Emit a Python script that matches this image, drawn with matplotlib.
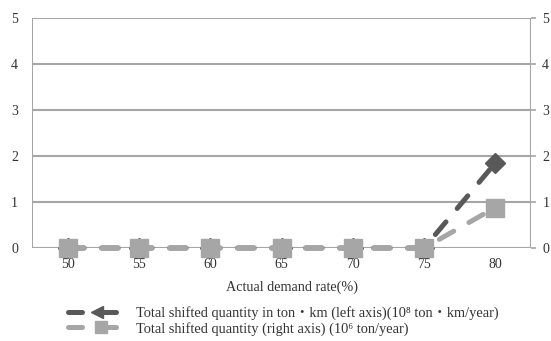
import matplotlib
matplotlib.use("Agg")
import matplotlib.pyplot as plt
from matplotlib.lines import Line2D
from matplotlib.legend_handler import HandlerBase

categories = ["50", "55", "60", "65", "70", "75", "80"]
ton_km = [0, 0, 0, 0, 0, 0, 1.85]      # left axis, 10^8 ton・km/year
tons = [0, 0, 0, 0, 0, 0, 0.88]        # right axis, 10^6 ton/year
yticks = [0, 1, 2, 3, 4, 5]

label1 = "Total shifted quantity in ton・km (left axis)(10⁸ ton・km/year)"
label2 = "Total shifted quantity (right axis) (10⁶ ton/year)"

fam = ["Liberation Serif", "Noto Sans CJK JP", "DejaVu Serif"]
plt.rcParams["font.family"] = fam
txt = "#333333"
gridc = "#a6a6a6"
dark = "#595959"
light = "#a6a6a6"

fig = plt.figure(figsize=(5.51, 3.41), dpi=100)
ax = fig.add_axes([32/551, 1-248/341, (531-32)/551, (248-18)/341])
ax2 = ax.twinx()

x = list(range(len(categories)))
ax.plot(x, ton_km, color=dark, lw=3.6, dashes=(3.3, 3.5), dash_capstyle="round",
        marker="D", markersize=10, zorder=3, clip_on=False)
ax2.plot(x, tons, color=light, lw=3.6, dashes=(3.3, 3.5), dash_capstyle="round",
         marker="s", markersize=13, zorder=4, clip_on=False)

for a in (ax, ax2):
    a.set_ylim(0, 5)
    a.set_yticks(yticks)
    a.set_xlim(-0.5, len(categories) - 0.5)
    for s in a.spines.values():
        s.set_visible(False)
ax2.set_zorder(ax.get_zorder() + 1)
ax2.patch.set_visible(False)

ax.set_xticks(x)
ax.set_xticklabels(categories)
ax.tick_params(axis="x", length=0, pad=7.5, labelsize=10, labelcolor=txt)
ax.tick_params(axis="y", length=0, pad=10, labelsize=10, labelcolor=txt)
ax2.tick_params(axis="y", length=3.6, width=1.2, color=gridc, pad=4.5, labelsize=10, labelcolor=txt)

ax.grid(axis="y", color=gridc, lw=1.5)
ax.set_axisbelow(True)
ax.axvline(-0.5, color=gridc, lw=1.5, zorder=1)
ax.axvline(len(categories) - 0.5, color=gridc, lw=1.5, zorder=1)
ax.axhline(0, color=gridc, lw=1.5, zorder=1)

ax.set_xlabel("Actual demand rate(%)", fontsize=10.2, color=txt)
ax.xaxis.set_label_coords((292 - 32) / 499, -(287 - 248) / 230)
ax.xaxis.label.set_verticalalignment("center")


class SplitHandler(HandlerBase):
    def __init__(self, marker, msize, mpos, start2):
        super().__init__()
        self.marker = marker
        self.msize = msize
        self.mpos = mpos
        self.start2 = start2

    def create_artists(self, legend, orig_handle, xdescent, ydescent, width, height,
                       fontsize, trans):
        c = orig_handle.get_color()
        y = height / 2 - ydescent
        x0 = -xdescent
        seg1 = Line2D([x0 + 0.05 * width, x0 + 0.32 * width], [y, y], color=c, lw=3.6,
                      solid_capstyle="round")
        seg2 = Line2D([x0 + self.start2 * width, x0 + 0.95 * width], [y, y], color=c,
                      lw=3.6, solid_capstyle="round")
        mk = Line2D([x0 + self.mpos * width], [y], color=c, lw=0, marker=self.marker,
                    markersize=self.msize)
        for a in (seg1, seg2, mk):
            a.set_transform(trans)
        return [seg1, seg2, mk]


h1 = Line2D([], [], color=dark)
h2 = Line2D([], [], color=light)
leg = fig.legend([h1, h2], [label1, label2], loc="center",
                 bbox_to_anchor=(282/551, 1-321/341), frameon=False,
                 fontsize=10.4, handlelength=3.7, labelspacing=0.1, handletextpad=1.2,
                 labelcolor=txt,
                 handler_map={h1: SplitHandler("<", 8, 0.6, 0.62),
                              h2: SplitHandler("s", 8, 0.67, 0.6)})

fig.savefig("out.png", dpi=100)
